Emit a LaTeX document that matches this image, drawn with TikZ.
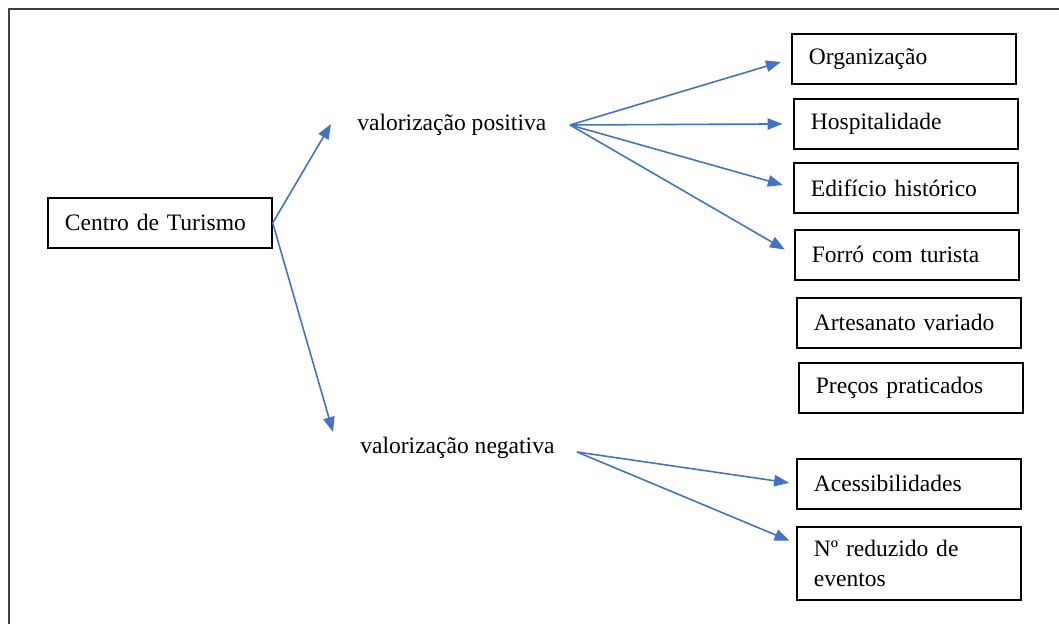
\documentclass[tikz,border=0pt]{standalone}
\usepackage{fontspec}
\setmainfont{Liberation Serif}
\usetikzlibrary{arrows.meta}
\definecolor{arrowblue}{HTML}{4472C4}
\definecolor{framegray}{HTML}{404040}
\tikzset{
  fanarrow/.style={-{Triangle[length=8.5pt,width=6.5pt]}, line width=0.9pt, draw=arrowblue, fill=arrowblue},
  itembox/.style={draw, line width=1pt, anchor=north west, text width=3.8cm, inner xsep=0.34cm, minimum height=1cm, align=left},
  branch/.style={anchor=west, inner sep=0pt}
}

\begin{document}
\begin{tikzpicture}[x=0.02cm, y=-0.02cm, every node/.style={font=\fontsize{13.4}{17}\selectfont}]
  \useasboundingbox (0,0) rectangle (1059,624);
  \draw[framegray, line width=0.8pt] (9,624) -- (9,9) -- (1059,9);
  % left box and the two branches
  \node[itembox] (ctr) at (47,197) {Centro de Turismo};
  \node[branch] (pos) at (357,125) {valorização positiva};
  \node[branch] (neg) at (360,448) {valorização negativa};
  % right column
  \node[itembox] (org) at (791,33) {Organização};
  \node[itembox] (hosp) at (793,98) {Hospitalidade};
  \node[itembox] (edif) at (793,162) {Edifício histórico};
  \node[itembox] (forro) at (794,229) {Forró com turista};
  \node[itembox] (art) at (796,297) {Artesanato variado};
  \node[itembox] (prec) at (798,362) {Preços praticados};
  \node[itembox] (acc) at (796,458) {Acessibilidades};
  \node[itembox, minimum height=1.46cm] (red) at (796,526) {Nº reduzido de\\eventos};
  % arrows
  \coordinate (up) at (331,124);
  \coordinate (down) at (333,432);
  \coordinate (posfan) at (570,125);
  \coordinate (negfan) at (577,452);
  \draw[fanarrow] (ctr.east) -- (up);
  \draw[fanarrow] (ctr.east) -- (down);
  \foreach \n in {org,hosp,edif,forro}
    \draw[fanarrow, shorten >=6pt] (posfan) -- (\n.west);
  \draw[fanarrow, shorten >=4pt] (negfan) -- (acc.west);
  \draw[fanarrow, shorten >=4pt] (negfan) -- (red.170);
\end{tikzpicture}
\end{document}
